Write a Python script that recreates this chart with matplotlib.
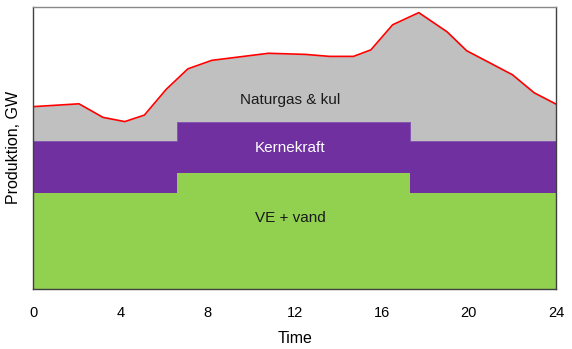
import numpy as np
import matplotlib.pyplot as plt

plt.rcParams['font.family'] = ['Liberation Sans', 'DejaVu Sans']

# =========================================================
# DATA (arbitrary GW scale 0-100)
# =========================================================

demand_hours = [0, 2.1, 3.2, 4.2, 5.1, 6.1, 7.1, 8.2, 10.8, 12.5,
                13.6, 14.7, 15.5, 16.5, 17.7, 19.0, 19.9, 22.0, 23.0, 24]
demand = [64.6, 65.6, 60.8, 59.3, 61.6, 70.7, 78.0, 81.0, 83.5, 83.1,
          82.4, 82.4, 84.7, 93.6, 97.9, 91.1, 84.4, 75.9, 69.5, 65.5]

step_hours = [0, 6.6, 17.3, 24]
ve_vand = [33.9, 41.1, 33.9, 33.9]
kernekraft = [18.5, 17.9, 18.5, 18.5]

labels = ["VE + vand", "Kernekraft", "Naturgas & kul"]

# =========================================================
# PLOT
# =========================================================

fig = plt.figure(figsize=(5.72, 3.49), dpi=100)
ax = fig.add_axes([0.0582, 0.1719, 0.9138, 0.8089])

ve = np.array(ve_vand)
kk = ve + np.array(kernekraft)

ax.fill_between(demand_hours, 0, demand, color="#C0C0C0", lw=0, zorder=1)
ax.plot(demand_hours, demand, color="#FF0000", lw=1.2, zorder=4)

ax.fill_between(step_hours, 0, kk, step="post", color="#7030A0",
                edgecolor="#8050B0", lw=0.6, zorder=2)
ax.fill_between(step_hours, 0, ve, step="post", color="#92D050",
                lw=0, zorder=3)

ax.text(11.8, 67, labels[2], ha="center", va="center", fontsize=11,
        color="#1a1a1a", zorder=5)
ax.text(11.8, 50, labels[1], ha="center", va="center", fontsize=11,
        color="white", zorder=5)
ax.text(11.8, 25, labels[0], ha="center", va="center", fontsize=11,
        color="#1a1a1a", zorder=5)

ax.set_xlim(0, 24)
ax.set_ylim(0, 100)
ax.set_xticks([0, 4, 8, 12, 16, 20, 24])
ax.set_yticks([])
ax.tick_params(axis="x", length=0, pad=12, labelsize=10.5)

ax.set_xlabel("Time", fontsize=11.5, labelpad=8)
ax.set_ylabel("Produktion, GW", fontsize=11.5, labelpad=9)

for side in ["left", "right", "bottom"]:
    ax.spines[side].set_color("#404040")
ax.spines["top"].set_color("#888888")
for side in ax.spines:
    ax.spines[side].set_linewidth(1.0)
    ax.spines[side].set_zorder(6)

fig.savefig("out.png", dpi=100)
